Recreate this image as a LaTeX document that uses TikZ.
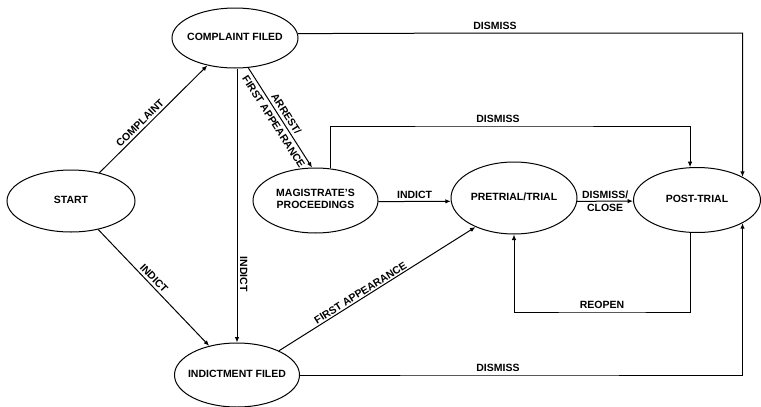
\documentclass[tikz,border=0pt]{standalone}
\usepackage{fontspec}
\setmainfont{Liberation Sans}
\usetikzlibrary{shapes.geometric,arrows.meta}

% zero-width text so the ellipse size is set only by minimum width/height
\newcommand{\statetext}[1]{\makebox[0pt]{\begin{tabular}{@{}c@{}}#1\end{tabular}}}

\begin{document}
\begin{tikzpicture}[x=1pt,y=-1pt,
  every node/.style={font=\fontsize{10.5}{12}\selectfont\bfseries},
  state/.style={draw, ellipse, line width=1pt, inner sep=0pt},
  arr/.style={line width=1pt, -{Latex[length=5.5pt,width=4.5pt]}},
  lab/.style={inner sep=2.5pt}
]
\useasboundingbox (0,0) rectangle (761,407);

% states
\node[state, minimum width=128pt, minimum height=62pt] (start) at (71,201) {\statetext{START}};
\node[state, minimum width=126pt, minimum height=60pt] (cf) at (235,38) {\statetext{COMPLAINT FILED}};
\node[state, minimum width=125pt, minimum height=65pt] (mag) at (315.5,200.5) {\statetext{MAGISTRATE'S\\PROCEEDINGS}};
\node[state, minimum width=125pt, minimum height=64pt] (ind) at (237,375) {\statetext{INDICTMENT FILED}};
\node[state, minimum width=126pt, minimum height=72pt] (pre) at (514,198) {\statetext{PRETRIAL/TRIAL}};
\node[state, minimum width=127pt, minimum height=65pt] (post) at (697,200) {\statetext{POST-TRIAL}};

% bends of the routed connectors
\coordinate (d1) at (495,33);
\coordinate (d2) at (498,126);
\coordinate (d3) at (498,375);
\coordinate (ro) at (602,312);

% transitions
\draw[arr] (start) -- node[lab, pos=0.42, above, sloped] {COMPLAINT} (cf);
\draw[arr] (start) -- node[lab, pos=0.46, above, sloped] {INDICT} (ind);
\draw[arr] (cf.south -| ind.north) -- node[lab, pos=0.75, above, sloped] {INDICT} (ind.north);
\draw[arr] (cf.-66) -- node[midway, sloped, align=center, inner sep=0pt] {ARREST/\\[3pt]FIRST APPEARANCE} (mag.96);
\draw[arr] (cf.4.6) -- (d1) node[lab, above] {DISMISS} -| (post.27);
\draw[arr] (mag.65.4) |- (d2) node[lab, above] {DISMISS} -| (post.102.2);
\draw[arr] (mag.-1.4) -- node[lab, above] {INDICT} (pre.183.7);
\draw[arr] (pre.-3.7) -- node[lab, above] {DISMISS/} node[lab, below] {CLOSE} (post.181.8);
\draw[arr] (post.-102.2) |- (ro) node[lab, above] {REOPEN} -| (pre.south);
\draw[arr] (ind.30) -- node[pos=0.43, above, sloped, inner sep=1.5pt] {FIRST APPEARANCE} (pre.217);
\draw[arr] (ind.east) -- (d3) node[lab, above] {DISMISS} -| (post.-27);
\end{tikzpicture}
\end{document}
